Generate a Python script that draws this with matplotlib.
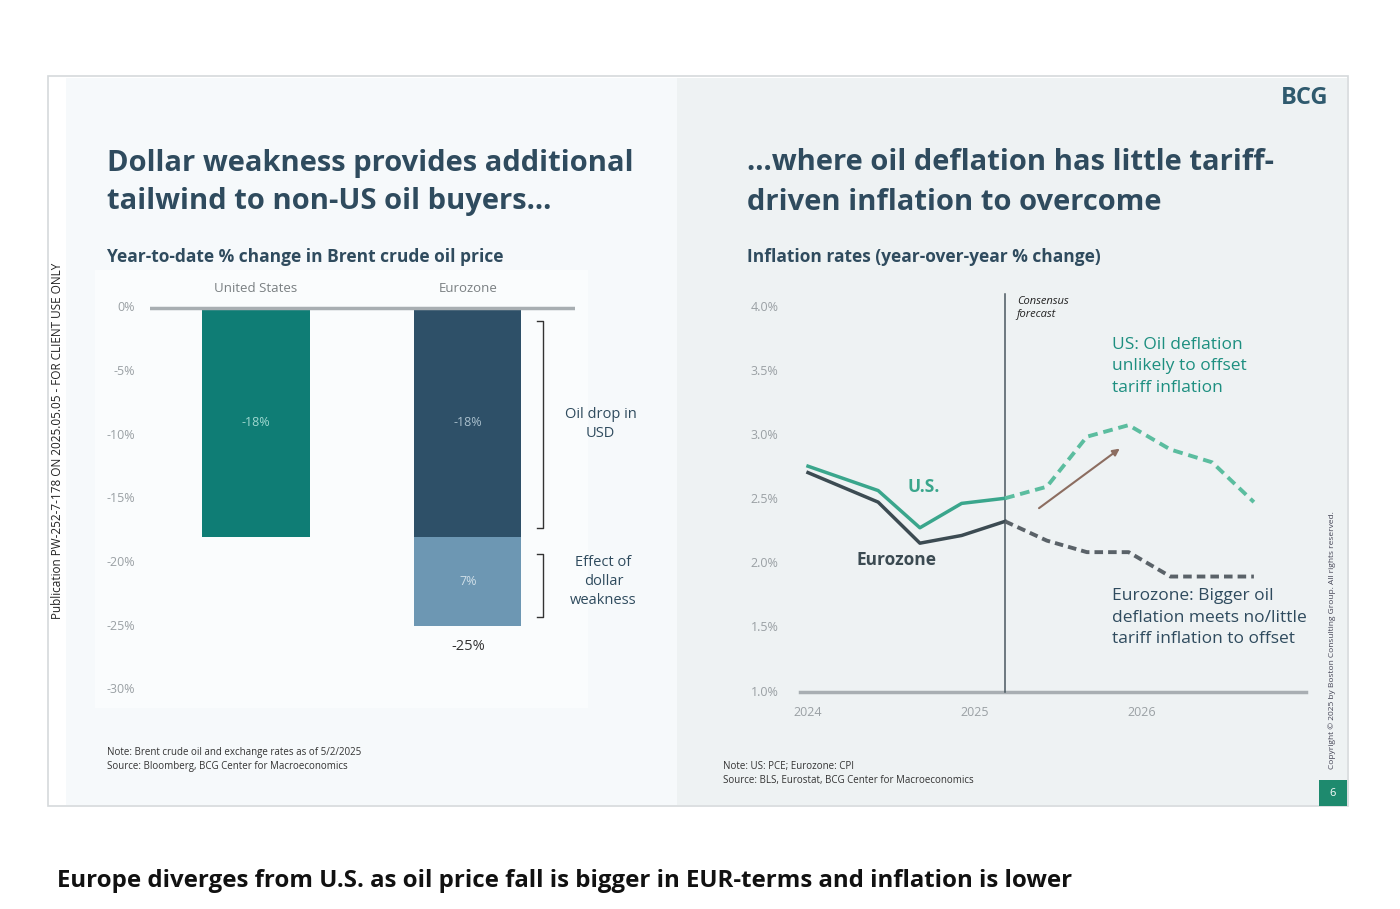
import matplotlib
matplotlib.use("Agg")
import matplotlib.pyplot as plt
from matplotlib.patches import Rectangle

plt.rcParams['font.family'] = ['Open Sans', 'DejaVu Sans']

# ---- data ----
bar_cats = ["United States", "Eurozone"]
oil_drop_usd = [-18, -18]
dollar_effect = [0, -7]
bar_ticks = [0, -5, -10, -15, -20, -25, -30]

years_hist = [2024.0, 2024.42, 2024.67, 2024.92, 2025.18]
us_hist = [2.76, 2.57, 2.28, 2.47, 2.51]
ez_hist = [2.71, 2.48, 2.16, 2.22, 2.33]
years_fc = [2025.18, 2025.43, 2025.67, 2025.92, 2026.17, 2026.42, 2026.67]
us_fc = [2.51, 2.60, 2.99, 3.08, 2.89, 2.79, 2.48]
ez_fc = [2.33, 2.18, 2.09, 2.09, 1.90, 1.90, 1.90]
line_ticks = [1.0, 1.5, 2.0, 2.5, 3.0, 3.5, 4.0]
year_ticks = [2024, 2025, 2026]

W, H = 1400, 909
fig = plt.figure(figsize=(14, 9.09), dpi=100)
fig.patch.set_facecolor("white")

def fx(px): return px / W
def fy(py): return 1 - py / H
def rect(x0, y0, x1, y1, z=-10, **kw):
    fig.patches.append(Rectangle((fx(x0), fy(y1)), (x1 - x0) / W, (y1 - y0) / H,
                                 transform=fig.transFigure, zorder=z, **kw))

rect(48, 76, 1348, 806, z=-12, facecolor="white", edgecolor="#d5d9dc", lw=1.2)
rect(66, 78, 677, 805, z=-11, facecolor="#f6f9fb", edgecolor="none")
rect(677, 78, 1347, 805, z=-11, facecolor="#eef2f3", edgecolor="none")
rect(95, 270, 588, 708, z=-10, facecolor="#fafcfd", edgecolor="none")
rect(1319, 780, 1347, 806, z=-10, facecolor="#1e8a6e", edgecolor="none")

title_c = "#2f4b5e"
fig.text(fx(107), fy(163), "Dollar weakness provides additional", fontsize=21, weight="bold", color=title_c, va="center")
fig.text(fx(107), fy(202), "tailwind to non-US oil buyers...", fontsize=21, weight="bold", color=title_c, va="center")
fig.text(fx(747), fy(163), "...where oil deflation has little tariff-", fontsize=21, weight="bold", color=title_c, va="center")
fig.text(fx(747), fy(202), "driven inflation to overcome", fontsize=21, weight="bold", color=title_c, va="center")
fig.text(fx(107), fy(257), "Year-to-date % change in Brent crude oil price", fontsize=12.5, weight="bold", color=title_c, va="center")
fig.text(fx(747), fy(257), "Inflation rates (year-over-year % change)", fontsize=12.5, weight="bold", color=title_c, va="center")
fig.text(fx(1305), fy(98), "BCG", fontsize=17, weight="bold", color="#2f5a6e", ha="center", va="center")
fig.text(fx(1333), fy(793), "6", fontsize=8, color="white", ha="center", va="center")
fig.text(fx(58), fy(441), "Publication PW-252-7-178 ON 2025.05.05 - FOR CLIENT USE ONLY", fontsize=8.5, rotation=90, ha="center", va="center", color="#222")
fig.text(fx(1332), fy(640), "Copyright © 2025 by Boston Consulting Group. All rights reserved.", fontsize=6, rotation=90, ha="center", va="center", color="#445")
fig.text(fx(107), fy(752), "Note: Brent crude oil and exchange rates as of 5/2/2025", fontsize=7, color="#333", va="center")
fig.text(fx(107), fy(766), "Source: Bloomberg, BCG Center for Macroeconomics", fontsize=7, color="#333", va="center")
fig.text(fx(723), fy(767), "Note: US: PCE; Eurozone: CPI", fontsize=7, color="#333", va="center")
fig.text(fx(723), fy(781), "Source: BLS, Eurostat, BCG Center for Macroeconomics", fontsize=7, color="#333", va="center")
fig.text(fx(57), fy(881), "Europe diverges from U.S. as oil price fall is bigger in EUR-terms and inflation is lower",
         fontsize=17.3, weight="bold", color="#111", va="center")

# ---- left bar chart ----
L, R, T, B = 150, 575, 290, 700
ax = fig.add_axes([fx(L), fy(B), (R - L) / W, (B - T) / H])
ax.set_facecolor("none")
ax.set_xlim(-0.5, 1.505)
ax.set_ylim(-30.79, 1.41)
for s in ax.spines.values(): s.set_visible(False)
ax.set_xticks([]); ax.set_yticks([])
x = [0, 1]
ax.bar(x, oil_drop_usd, width=0.505, color=["#0f7d75", "#2e5068"], zorder=2)
ax.bar([1], [dollar_effect[1]], bottom=[oil_drop_usd[1]], width=0.505, color="#6d97b3", zorder=2)
ax.axhline(0, xmin=0, xmax=1, color="#a8aeb2", lw=2.5, zorder=3)
for t in bar_ticks:
    ax.text(-0.57, t, f"{t}%", ha="right", va="center", fontsize=9, color="#9aa0a4", clip_on=False)
for xi, c in zip(x, bar_cats):
    ax.text(xi, 1.0, c, ha="center", va="bottom", fontsize=9.5, color="#7a7f82")
for xi, v in zip(x, oil_drop_usd):
    ax.text(xi, v / 2, f"{v}%", ha="center", va="center", fontsize=9, color="#9fd8d0" if xi == 0 else "#a9bfcc")
ax.text(1, oil_drop_usd[1] + dollar_effect[1] / 2, f"{-dollar_effect[1]}%", ha="center", va="center", fontsize=9, color="#d0dfe8")
tot = oil_drop_usd[1] + dollar_effect[1]
ax.text(1, tot - 1.0, f"{tot}%", ha="center", va="top", fontsize=10.5, color="#333")
bx = 1.355
ax.plot([bx - 0.03, bx, bx, bx - 0.03], [-1, -1, -17.3, -17.3], color="#333", lw=1)
ax.plot([bx - 0.03, bx, bx, bx - 0.03], [-19.3, -19.3, -24.3, -24.3], color="#333", lw=1)
ax.text(1.625, -9.1, "Oil drop in\nUSD", ha="center", va="center", fontsize=10.5, color="#2f4b5e", linespacing=1.35, clip_on=False)
ax.text(1.64, -21.5, "Effect of\ndollar\nweakness", ha="center", va="center", fontsize=10.5, color="#2f4b5e", linespacing=1.35, clip_on=False)

# ---- right line chart ----
L2, R2, T2, B2 = 745, 1310, 290, 720
ax2 = fig.add_axes([fx(L2), fy(B2), (R2 - L2) / W, (B2 - T2) / H])
ax2.set_facecolor("none")
x0 = 2024 + (L2 - 808) / 167; x1 = 2024 + (R2 - 808) / 167
y1 = 1 + (692 - T2) / 128.3; y0 = 1 + (692 - B2) / 128.3
ax2.set_xlim(x0, x1); ax2.set_ylim(y0, y1)
for s in ax2.spines.values(): s.set_visible(False)
ax2.set_xticks([]); ax2.set_yticks([])
for t in line_ticks:
    ax2.text(2023.74, t, f"{t:.1f}%", ha="center", va="center", fontsize=9, color="#9aa0a4")
for yv in year_ticks:
    ax2.text(yv, 0.84, str(yv), ha="center", va="center", fontsize=9, color="#9aa0a4")
ax2.plot([2023.95, 2026.98], [1.0, 1.0], color="#a8aeb2", lw=2.5)
ax2.plot([years_fc[0], years_fc[0]], [1.0, 4.1], color="#4a5860", lw=1.1)
ax2.text(years_fc[0] + 0.07, 4.09, "Consensus\nforecast", fontsize=8, style="italic", color="#222", va="top", linespacing=1.35)
ax2.plot(years_hist, us_hist, color="#3aa68c", lw=2.5)
ax2.plot(years_hist, ez_hist, color="#3c4b52", lw=2.5)
ax2.plot(years_fc, us_fc, color="#5bbd9f", lw=2.8, ls=(0, (2.5, 1.5)))
ax2.plot(years_fc, ez_fc, color="#5a6268", lw=2.8, ls=(0, (2.2, 1.3)))
ax2.annotate("", xy=(2025.88, 2.91), xytext=(2025.37, 2.42),
             arrowprops=dict(arrowstyle="-|>", color="#8c6d60", lw=1.5, mutation_scale=10))
ax2.text(2024.69, 2.60, "U.S.", fontsize=12.5, weight="bold", color="#3aa68c", ha="center", va="center")
ax2.text(2024.53, 2.03, "Eurozone", fontsize=12.5, weight="bold", color="#3c4b52", ha="center", va="center")
ax2.text(2025.82, 3.54, "US: Oil deflation\nunlikely to offset\ntariff inflation", fontsize=12.5, color="#1d8f80", va="center", linespacing=1.45)
ax2.text(2025.82, 1.58, "Eurozone: Bigger oil\ndeflation meets no/little\ntariff inflation to offset", fontsize=12.5, color="#2f4b5e", va="center", linespacing=1.45)

fig.savefig("out.png", dpi=100, facecolor="white")
